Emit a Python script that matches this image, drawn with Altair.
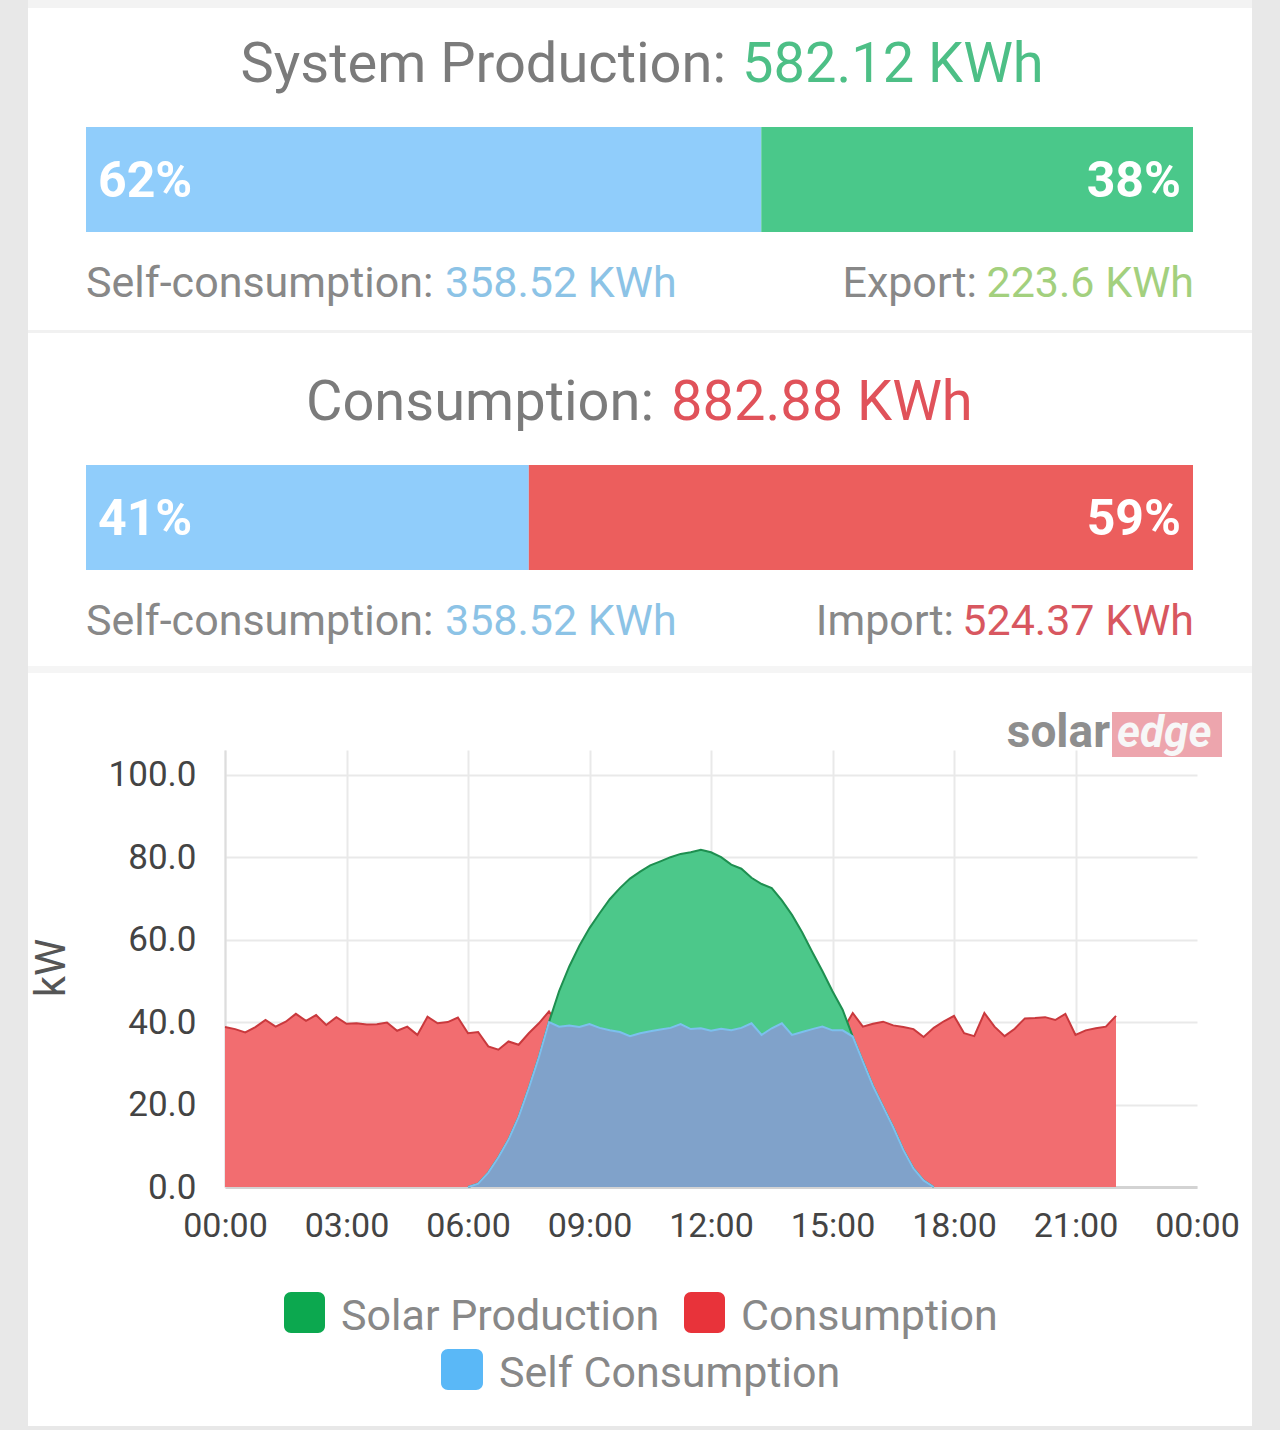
import altair as alt
import pandas as pd

FONT = "Roboto"

# ---------------- summary data ----------------
production_title = "System Production:"
production_total = "582.12 KWh"
consumption_title = "Consumption:"
consumption_total = "882.88 KWh"

prod_segments = ["Self-consumption", "Export"]
prod_share = [61.0, 39.0]
prod_pct_labels = ["62%", "38%"]
prod_label_names = ["Self-consumption:", "Export:"]
prod_label_values = ["358.52 KWh", "223.6 KWh"]

cons_segments = ["Self-consumption", "Import"]
cons_share = [40.0, 60.0]
cons_pct_labels = ["41%", "59%"]
cons_label_names = ["Self-consumption:", "Import:"]
cons_label_values = ["358.52 KWh", "524.37 KWh"]

# ---------------- time series (15-minute steps, 00:00 .. 22:00) ----------------
hours = [i * 0.25 for i in range(89)]

consumption_kw = [
    38.8, 38.3, 37.5, 38.8, 40.5, 38.9, 40.1, 42.0, 40.3, 41.7, 39.3, 41.2,
    39.6, 39.7, 39.4, 39.5, 39.9, 37.9, 38.9, 36.9, 41.3, 39.7, 40.0, 41.1,
    37.3, 37.6, 34.1, 33.3, 35.3, 34.5, 37.3, 39.7, 42.6, 38.9, 39.2, 38.8,
    39.5, 38.6, 38.0, 37.6, 36.6, 37.3, 37.8, 38.2, 38.6, 39.5, 38.3, 38.5,
    37.9, 38.4, 38.0, 38.6, 39.7, 36.9, 38.5, 39.7, 36.9, 37.6, 38.3, 38.9,
    38.0, 38.0, 42.2, 38.9, 39.6, 40.1, 39.2, 38.8, 38.3, 36.4, 38.6, 40.2,
    41.5, 37.3, 36.6, 42.2, 38.9, 36.6, 38.4, 40.9, 41.0, 41.2, 40.5, 42.0,
    36.9, 38.0, 38.5, 38.9, 41.5,
]

solar_kw = [
    0, 0, 0, 0, 0, 0, 0, 0, 0, 0, 0, 0,
    0, 0, 0, 0, 0, 0, 0, 0, 0, 0, 0, 0,
    0, 0.8, 3.5, 7.2, 11.5, 17.0, 24.0, 31.5, 40.0, 47.5, 53.5, 58.5,
    62.8, 66.4, 69.8, 72.5, 74.8, 76.5, 78.0, 79.0, 80.0, 80.8, 81.2, 81.8,
    81.2, 80.0, 78.2, 77.2, 75.0, 73.5, 72.5, 69.5, 66.0, 61.8, 57.0, 52.4,
    47.5, 43.0, 36.5, 30.5, 24.5, 19.5, 14.5, 9.0, 4.5, 1.6, 0, 0,
    0, 0, 0, 0, 0, 0, 0, 0, 0, 0, 0, 0,
    0, 0, 0, 0, 0,
]

self_consumption_kw = [
    0, 0, 0, 0, 0, 0, 0, 0, 0, 0, 0, 0,
    0, 0, 0, 0, 0, 0, 0, 0, 0, 0, 0, 0,
    0, 0.8, 3.5, 7.2, 11.5, 17.0, 24.0, 31.5, 40.0, 38.9, 39.2, 38.8,
    39.5, 38.6, 38.0, 37.6, 36.6, 37.3, 37.8, 38.2, 38.6, 39.5, 38.3, 38.5,
    37.9, 38.4, 38.0, 38.6, 39.7, 36.9, 38.5, 39.7, 36.9, 37.6, 38.3, 38.9,
    38.0, 38.0, 36.5, 30.5, 24.5, 19.5, 14.5, 9.0, 4.5, 1.6, 0, 0,
    0, 0, 0, 0, 0, 0, 0, 0, 0, 0, 0, 0,
    0, 0, 0, 0, 0,
]

series_names = ["Solar Production", "Consumption", "Self Consumption"]
x_tick_hours = [0, 3, 6, 9, 12, 15, 18, 21, 24]
y_tick_values = [0, 20, 40, 60, 80, 100]

# ---------------- colours ----------------
PAGE_BG = "#f3f3f3"
SIDE_BG = "#e8e8e8"
TITLE_GRAY = "#7b7b7b"
LABEL_GRAY = "#888888"
BAR_BLUE = "#90cdfb"
BAR_GREEN = "#4ac88a"
BAR_RED = "#ec5e5d"

# plot-area origin on the page (everything else is placed relative to it)
OX, OY = 225, 750
PLOT_W, PLOT_H = 1197 - OX, 1187 - OY


def blank():
    return alt.Data(values=[{"k": 1}])


def rect_layer(x1, x2, y1, y2, color, **kw):
    return alt.Chart(blank()).mark_rect(color=color, **kw).encode(
        x=alt.value(x1 - OX), x2=alt.value(x2 - OX),
        y=alt.value(y1 - OY), y2=alt.value(y2 - OY),
    )


def text_layer(txt, x, y, size, color, align="left", weight="normal", **kw):
    return alt.Chart(blank()).mark_text(
        text=txt, font=FONT, fontSize=size, color=color, align=align,
        baseline="alphabetic", fontWeight=weight, **kw
    ).encode(x=alt.value(x - OX), y=alt.value(y - OY))


def bar_layer(segments, shares, colors, top, bottom):
    df = pd.DataFrame({"segment": segments, "share": shares, "fill": colors})
    df["end"] = df["share"].cumsum()
    df["start"] = df["end"] - df["share"]
    return alt.Chart(df).mark_rect().encode(
        x=alt.X("start:Q", scale=alt.Scale(domain=[0, 100], range=[86 - OX, 1193 - OX], nice=False), axis=None),
        x2="end:Q",
        y=alt.value(top - OY),
        y2=alt.value(bottom - OY),
        color=alt.Color("fill:N", scale=None, legend=None),
    )


def summary_layers(title_txt, value_txt, value_color, title_right_x, value_left_x, title_base,
                   segments, shares, colors, pct_labels, bar_top, bar_bottom, pct_base,
                   label_names, label_values, label_colors, right_name_x, label_base):
    return [
        text_layer(title_txt, title_right_x, title_base, 56, TITLE_GRAY, align="right"),
        text_layer(value_txt, value_left_x, title_base, 56, value_color, align="left"),
        bar_layer(segments, shares, colors, bar_top, bar_bottom),
        text_layer(pct_labels[0], 98, pct_base, 50, "#ffffff", weight="bold"),
        text_layer(pct_labels[1], 1181, pct_base, 50, "#ffffff", align="right", weight="bold"),
        text_layer(label_names[0], 86, label_base, 43, LABEL_GRAY),
        text_layer(label_values[0], 445, label_base, 43, label_colors[0]),
        text_layer(label_names[1], right_name_x, label_base, 43, LABEL_GRAY, align="right"),
        text_layer(label_values[1], 1194, label_base, 43, label_colors[1], align="right"),
    ]


frame = [
    rect_layer(0, 1280, 0, 8, PAGE_BG),
    rect_layer(28, 1252, 330, 333, "#f1f1f1"),
    rect_layer(28, 1252, 666, 673, "#f5f5f5"),
    rect_layer(0, 1280, 1426, 1430, SIDE_BG),
    rect_layer(0, 28, 0, 1430, SIDE_BG),
    rect_layer(1252, 1280, 0, 1430, SIDE_BG),
]

production = summary_layers(
    production_title, production_total, "#4dbf86", 726, 742, 82,
    prod_segments, prod_share, [BAR_BLUE, BAR_GREEN], prod_pct_labels, 127, 232, 197,
    prod_label_names, prod_label_values, ["#8cc3e6", "#a3d07e"], 977, 297,
)

consumption = summary_layers(
    consumption_title, consumption_total, "#e0525a", 654, 671, 420,
    cons_segments, cons_share, [BAR_BLUE, BAR_RED], cons_pct_labels, 465, 570, 535,
    cons_label_names, cons_label_values, ["#8cc3e6", "#d85760"], 954, 635,
)

# ---------------- area chart ----------------
ts = pd.DataFrame({
    "hour": hours,
    "cons": consumption_kw,
    "solar": solar_kw,
    "selfc": self_consumption_kw,
})

x_axis = alt.Axis(
    values=x_tick_hours, title=None,
    labelExpr="(datum.value % 24 < 10 ? '0' : '') + (datum.value % 24) + ':00'",
    grid=True, gridColor="#e9e9e9", gridWidth=2,
    gridOpacity={"condition": {"test": "datum.value >= 24", "value": 0}, "value": 1},
    domainColor="#d3d3d3", domainWidth=3,
    ticks=False, tickSize=0, labelFont=FONT, labelFontSize=34, labelColor="#444444",
    labelPadding=22, labelFlush=False, labelOverlap=False,
)
y_axis = alt.Axis(
    values=y_tick_values, format=".1f", title=None,
    grid=True, gridColor="#e9e9e9", gridWidth=2,
    domainColor="#dddddd", domainWidth=2,
    ticks=False, tickSize=0, labelFont=FONT, labelFontSize=35, labelColor="#444444",
    labelPadding=29, labelOverlap=False,
)
x_scale = alt.Scale(domain=[0, 24], nice=False, zero=False)
y_scale = alt.Scale(domain=[0, 106], nice=False)


def area(field, fill, line_color, line_width, daylight_only=False):
    base = alt.Chart(ts)
    if daylight_only:
        base = base.transform_filter("datum.hour >= 6 && datum.hour <= 17.5")
    return base.mark_area(
        color=fill, opacity=1, interpolate="linear",
        line={"color": line_color, "strokeWidth": line_width},
    ).encode(
        x=alt.X("hour:Q", scale=x_scale, axis=x_axis),
        y=alt.Y(f"{field}:Q", scale=y_scale, axis=y_axis),
    )


areas = alt.layer(
    area("cons", "#f26d70", "#c9393d", 2),
    area("solar", "#4cc88a", "#1e8f50", 2, daylight_only=True),
    area("selfc", "#80a2ca", "#7cc0ee", 2, daylight_only=True),
)

logo = [
    text_layer("solar", 1110, 747, 46, "#8e8e8e", align="right", weight="bold"),
    rect_layer(1112, 1222, 712, 757, "#eda5ad"),
    text_layer("edge", 1117, 747, 44, "#f7f7f7", weight="bold", fontStyle="italic"),
]

kw_title = alt.Chart(blank()).mark_text(
    text="kW", font=FONT, fontSize=42, color="#555555", angle=270,
    align="center", baseline="middle",
).encode(x=alt.value(52 - OX), y=alt.value(968 - OY))

legend_colors = ["#0ca84f", "#e8333a", "#5ab8f7"]
legend_layers = [
    rect_layer(284, 325, 1292, 1333, legend_colors[0], cornerRadius=7),
    text_layer(series_names[0], 341, 1330, 43, LABEL_GRAY),
    rect_layer(684, 725, 1292, 1333, legend_colors[1], cornerRadius=7),
    text_layer(series_names[1], 741, 1330, 43, LABEL_GRAY),
    rect_layer(441, 483, 1349, 1390, legend_colors[2], cornerRadius=7),
    text_layer(series_names[2], 499, 1387, 43, LABEL_GRAY),
]

chart = alt.layer(
    areas, *frame, *production, *consumption, *logo, kw_title, *legend_layers
).resolve_scale(
    x="independent"
).properties(
    width=PLOT_W,
    height=PLOT_H,
    autosize=alt.AutoSizeParams(type="none"),
    padding={"left": OX, "top": OY, "right": 1280 - OX - PLOT_W, "bottom": 1430 - OY - PLOT_H},
    background="#ffffff",
).configure_view(stroke=None)

chart.save("out.html", embed_options={"renderer": "svg", "actions": False})
